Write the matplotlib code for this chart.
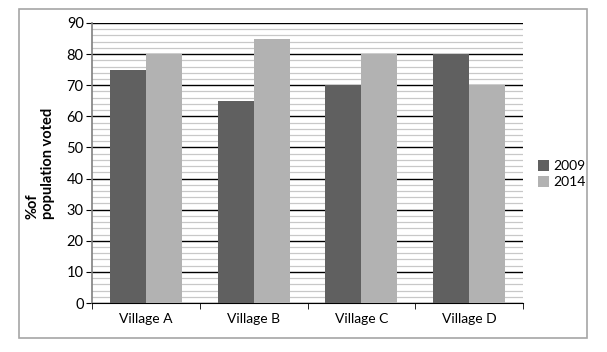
import matplotlib.pyplot as plt
import numpy as np
from matplotlib.patches import Rectangle

villages = ['Village A', 'Village B', 'Village C', 'Village D']
years = ['2009', '2014']
votes_2009 = [75, 65, 70, 80]
votes_2014 = [80, 85, 80, 70]

plt.rcParams['font.family'] = ['Lato', 'DejaVu Sans']

fig = plt.figure(figsize=(6.07, 3.52), dpi=100)
fig.patches.append(Rectangle((0.0313, 0.0398), 0.9357, 0.9346, transform=fig.transFigure,
                             fill=False, edgecolor='#a6a6a6', linewidth=1.2))
ax = fig.add_axes([0.1516, 0.1392, 0.71, 0.7955])

x = np.arange(len(villages))
w = 1 / 3
ax.bar(x - w / 2, votes_2009, w, color='#606060', label=years[0], zorder=3)
ax.bar(x + w / 2, votes_2014, w, color='#b2b2b2', label=years[1], zorder=3)

ax.set_xlim(-0.5, 3.5)
ax.set_ylim(0, 90)
ax.set_yticks(range(0, 91, 10))
ax.set_yticks(range(0, 91, 2), minor=True)
ax.grid(axis='y', which='minor', color='#c8c8c8', linewidth=0.9, zorder=1)
ax.grid(axis='y', which='major', color='black', linewidth=1.0, zorder=2)

ax.set_xticks(x)
ax.set_xticklabels(villages, fontsize=10)
ax.set_xticks(np.arange(-0.5, 4, 1), minor=True)
ax.tick_params(axis='x', which='major', length=0, pad=7)
ax.tick_params(axis='x', which='minor', length=4, color='black')
ax.tick_params(axis='y', which='major', length=4, labelsize=10.5, pad=2)
ax.tick_params(axis='y', which='minor', length=0)

for s in ['top', 'right']:
    ax.spines[s].set_visible(False)
ax.spines['left'].set_color('#808080')
ax.spines['left'].set_linewidth(1.2)
ax.spines['bottom'].set_color('black')

ax.set_ylabel('%of\npopulation voted', fontsize=10.5, fontweight='bold', labelpad=8,
              multialignment='left')

ax.legend(loc='center left', bbox_to_anchor=(1.005, 0.46), frameon=False, fontsize=10,
          handlelength=0.8, handleheight=0.8, handletextpad=0.3, labelspacing=0.3)

fig.savefig('out.png', dpi=100)
